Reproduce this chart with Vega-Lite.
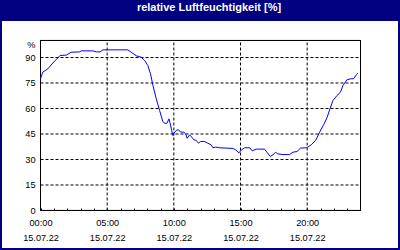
{
  "$schema": "https://vega.github.io/schema/vega-lite/v6.json",
  "background": "#000080",
  "padding": {"left": 2, "right": 2, "top": 0, "bottom": 2},
  "spacing": 0,
  "config": {"view": {"stroke": null}, "axis": {"labelOverlap": false}},
  "datasets": {
    "hum": [
      {"t": "2022-07-15T00:00", "v": 77.5},
      {"t": "2022-07-15T00:10", "v": 81.4},
      {"t": "2022-07-15T00:33", "v": 83.3},
      {"t": "2022-07-15T00:55", "v": 86.7},
      {"t": "2022-07-15T01:18", "v": 89.8},
      {"t": "2022-07-15T01:28", "v": 91.2},
      {"t": "2022-07-15T01:56", "v": 91.4},
      {"t": "2022-07-15T02:18", "v": 93.1},
      {"t": "2022-07-15T02:56", "v": 93.3},
      {"t": "2022-07-15T03:03", "v": 93.9},
      {"t": "2022-07-15T03:56", "v": 93.9},
      {"t": "2022-07-15T04:11", "v": 93.3},
      {"t": "2022-07-15T04:28", "v": 93.3},
      {"t": "2022-07-15T04:41", "v": 94.5},
      {"t": "2022-07-15T06:33", "v": 94.5},
      {"t": "2022-07-15T06:48", "v": 93.1},
      {"t": "2022-07-15T07:11", "v": 91.0},
      {"t": "2022-07-15T07:33", "v": 90.2},
      {"t": "2022-07-15T07:48", "v": 88.4},
      {"t": "2022-07-15T08:03", "v": 85.3},
      {"t": "2022-07-15T08:15", "v": 80.4},
      {"t": "2022-07-15T08:26", "v": 73.5},
      {"t": "2022-07-15T08:41", "v": 65.7},
      {"t": "2022-07-15T08:56", "v": 58.8},
      {"t": "2022-07-15T09:10", "v": 52.5},
      {"t": "2022-07-15T09:18", "v": 51.3},
      {"t": "2022-07-15T09:29", "v": 51.3},
      {"t": "2022-07-15T09:38", "v": 53.9},
      {"t": "2022-07-15T09:44", "v": 51.0},
      {"t": "2022-07-15T09:50", "v": 47.1},
      {"t": "2022-07-15T09:56", "v": 44.1},
      {"t": "2022-07-15T10:00", "v": 45.5},
      {"t": "2022-07-15T10:11", "v": 47.1},
      {"t": "2022-07-15T10:21", "v": 47.5},
      {"t": "2022-07-15T10:30", "v": 46.1},
      {"t": "2022-07-15T10:45", "v": 46.1},
      {"t": "2022-07-15T10:53", "v": 45.1},
      {"t": "2022-07-15T11:00", "v": 42.5},
      {"t": "2022-07-15T11:11", "v": 44.5},
      {"t": "2022-07-15T11:21", "v": 43.1},
      {"t": "2022-07-15T11:30", "v": 41.6},
      {"t": "2022-07-15T11:41", "v": 41.2},
      {"t": "2022-07-15T11:51", "v": 39.6},
      {"t": "2022-07-15T12:00", "v": 40.6},
      {"t": "2022-07-15T12:18", "v": 40.6},
      {"t": "2022-07-15T12:33", "v": 39.6},
      {"t": "2022-07-15T12:48", "v": 38.6},
      {"t": "2022-07-15T12:56", "v": 36.9},
      {"t": "2022-07-15T13:08", "v": 37.3},
      {"t": "2022-07-15T13:26", "v": 36.9},
      {"t": "2022-07-15T14:26", "v": 36.5},
      {"t": "2022-07-15T14:38", "v": 35.7},
      {"t": "2022-07-15T14:53", "v": 33.9},
      {"t": "2022-07-15T15:03", "v": 35.5},
      {"t": "2022-07-15T15:18", "v": 36.9},
      {"t": "2022-07-15T15:41", "v": 36.9},
      {"t": "2022-07-15T15:53", "v": 35.1},
      {"t": "2022-07-15T16:11", "v": 36.1},
      {"t": "2022-07-15T16:48", "v": 36.1},
      {"t": "2022-07-15T16:59", "v": 34.3},
      {"t": "2022-07-15T17:14", "v": 31.8},
      {"t": "2022-07-15T17:26", "v": 32.7},
      {"t": "2022-07-15T17:38", "v": 34.3},
      {"t": "2022-07-15T17:48", "v": 33.3},
      {"t": "2022-07-15T18:11", "v": 32.9},
      {"t": "2022-07-15T18:41", "v": 32.9},
      {"t": "2022-07-15T18:56", "v": 34.3},
      {"t": "2022-07-15T19:14", "v": 34.7},
      {"t": "2022-07-15T19:30", "v": 36.7},
      {"t": "2022-07-15T19:56", "v": 36.9},
      {"t": "2022-07-15T20:03", "v": 37.3},
      {"t": "2022-07-15T20:18", "v": 38.6},
      {"t": "2022-07-15T20:38", "v": 41.2},
      {"t": "2022-07-15T20:56", "v": 46.1},
      {"t": "2022-07-15T21:14", "v": 50.4},
      {"t": "2022-07-15T21:29", "v": 54.5},
      {"t": "2022-07-15T21:41", "v": 59.2},
      {"t": "2022-07-15T21:56", "v": 64.7},
      {"t": "2022-07-15T22:14", "v": 67.6},
      {"t": "2022-07-15T22:30", "v": 69.6},
      {"t": "2022-07-15T22:41", "v": 73.5},
      {"t": "2022-07-15T22:59", "v": 76.9},
      {"t": "2022-07-15T23:18", "v": 77.5},
      {"t": "2022-07-15T23:29", "v": 77.5},
      {"t": "2022-07-15T23:41", "v": 79.8},
      {"t": "2022-07-15T23:48", "v": 80.8}
    ],
    "vgrid": [
      {"t": "2022-07-15T05:00"},
      {"t": "2022-07-15T10:00"},
      {"t": "2022-07-15T15:00"},
      {"t": "2022-07-15T20:00"}
    ],
    "hgrid": [
      {"v": 15}, {"v": 30}, {"v": 45}, {"v": 60}, {"v": 75}, {"v": 90}
    ],
    "titletext": [{"label": "relative Luftfeuchtigkeit [%]"}]
  },
  "vconcat": [
    {
      "width": 396,
      "height": 21,
      "data": {"name": "titletext"},
      "mark": {"type": "text", "color": "white", "font": "Liberation Sans", "fontSize": 11, "fontWeight": "bold", "align": "center", "baseline": "alphabetic", "dx": 9, "dy": 0.5},
      "encoding": {"text": {"field": "label", "type": "nominal"}}
    },
    {
      "width": 396,
      "height": 227,
      "view": {"fill": "white", "stroke": null},
      "layer": [
        {
          "data": {"name": "vgrid"},
          "mark": {"type": "rule", "color": "black", "strokeWidth": 1, "strokeDash": [3, 2]},
          "encoding": {
            "x": {"field": "t", "type": "temporal"},
            "y": {"datum": 0, "type": "quantitative"},
            "y2": {"datum": 100}
          }
        },
        {
          "data": {"name": "hgrid"},
          "mark": {"type": "rule", "color": "black", "strokeWidth": 1, "strokeDash": [3, 2]},
          "encoding": {
            "x": {"datum": {"year": 2022, "month": 7, "date": 15, "hours": 0}, "type": "temporal"},
            "x2": {"datum": {"year": 2022, "month": 7, "date": 16, "hours": 0}},
            "y": {"field": "v", "type": "quantitative"}
          }
        },
        {
          "data": {"name": "hgrid"},
          "mark": {"type": "rect", "fill": "transparent", "stroke": "black", "strokeWidth": 1},
          "encoding": {
            "x": {"datum": {"year": 2022, "month": 7, "date": 15, "hours": 0}, "type": "temporal"},
            "x2": {"datum": {"year": 2022, "month": 7, "date": 16, "hours": 0}},
            "y": {"datum": 0, "type": "quantitative"},
            "y2": {"datum": 100}
          }
        },
        {
          "data": {"name": "hum"},
          "mark": {"type": "line", "color": "#0000FF", "strokeWidth": 1, "interpolate": "linear"},
          "encoding": {
            "x": {
              "field": "t",
              "type": "temporal",
              "title": null,
              "scale": {
                "domain": [
                  {"year": 2022, "month": 7, "date": 14, "hours": 21, "minutes": 6, "seconds": 45},
                  {"year": 2022, "month": 7, "date": 16, "hours": 2, "minutes": 48, "seconds": 45}
                ],
                "nice": false
              },
              "axis": {
                "orient": "bottom",
                "offset": -38,
                "tickCount": 100,
                "values": [
                  {"year": 2022, "month": 7, "date": 15, "hours": 0},
                  {"year": 2022, "month": 7, "date": 15, "hours": 1},
                  {"year": 2022, "month": 7, "date": 15, "hours": 2},
                  {"year": 2022, "month": 7, "date": 15, "hours": 3},
                  {"year": 2022, "month": 7, "date": 15, "hours": 4},
                  {"year": 2022, "month": 7, "date": 15, "hours": 5},
                  {"year": 2022, "month": 7, "date": 15, "hours": 6},
                  {"year": 2022, "month": 7, "date": 15, "hours": 7},
                  {"year": 2022, "month": 7, "date": 15, "hours": 8},
                  {"year": 2022, "month": 7, "date": 15, "hours": 9},
                  {"year": 2022, "month": 7, "date": 15, "hours": 10},
                  {"year": 2022, "month": 7, "date": 15, "hours": 11},
                  {"year": 2022, "month": 7, "date": 15, "hours": 12},
                  {"year": 2022, "month": 7, "date": 15, "hours": 13},
                  {"year": 2022, "month": 7, "date": 15, "hours": 14},
                  {"year": 2022, "month": 7, "date": 15, "hours": 15},
                  {"year": 2022, "month": 7, "date": 15, "hours": 16},
                  {"year": 2022, "month": 7, "date": 15, "hours": 17},
                  {"year": 2022, "month": 7, "date": 15, "hours": 18},
                  {"year": 2022, "month": 7, "date": 15, "hours": 19},
                  {"year": 2022, "month": 7, "date": 15, "hours": 20},
                  {"year": 2022, "month": 7, "date": 15, "hours": 21},
                  {"year": 2022, "month": 7, "date": 15, "hours": 22},
                  {"year": 2022, "month": 7, "date": 15, "hours": 23}
                ],
                "labelExpr": "hours(datum.value) % 5 == 0 ? [timeFormat(datum.value, '%H:%M'), timeFormat(datum.value, '%d.%m.%y')] : ''",
                "domain": false,
                "grid": false,
                "ticks": true,
                "tickSize": -2,
                "tickColor": "black",
                "tickWidth": 1,
                "labelFont": "Liberation Sans",
                "labelFontSize": 9.2,
                "labelColor": "black",
                "labelLineHeight": 15,
                "labelBaseline": "top",
                "labelAlign": "center",
                "labelAngle": 0,
                "labelPadding": 10.5,
                "labelOverlap": false,
                "labelFlush": false,
                "minExtent": 0
              }
            },
            "y": {
              "field": "v",
              "type": "quantitative",
              "title": null,
              "scale": {"domain": [-22.06, 111.47], "nice": false, "zero": false},
              "axis": {
                "orient": "left",
                "offset": -38,
                "tickCount": 100,
                "values": [0, 15, 30, 45, 60, 75, 90, 100],
                "labelExpr": "datum.value == 100 ? '%' : datum.label",
                "domain": false,
                "ticks": false,
                "grid": false,
                "labelPadding": 5,
                "labelFont": "Liberation Sans",
                "labelFontSize": 9.2,
                "labelColor": "black",
                "labelBaseline": {"condition": {"test": "datum.value == 100", "value": "top"}, "value": "middle"},
                "labelOverlap": false,
                "labelFlush": false,
                "minExtent": 0
              }
            }
          }
        }
      ]
    }
  ]
}
